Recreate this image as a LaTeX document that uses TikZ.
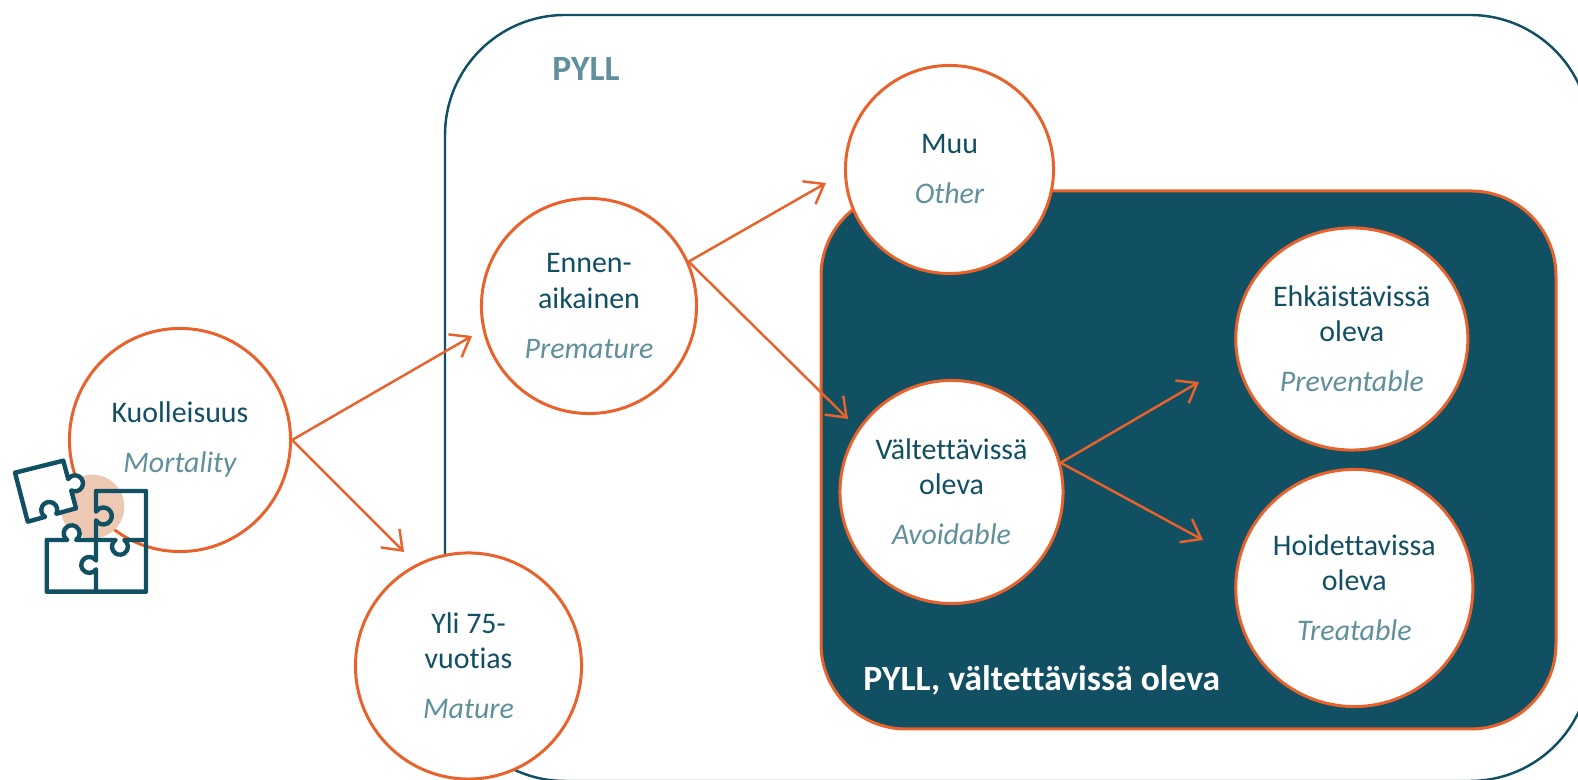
\documentclass[tikz,border=0pt]{standalone}
\usepackage{fontspec}
\setmainfont[Ligatures=CommonOff]{Carlito}
\usetikzlibrary{arrows.meta,shapes.geometric}

\definecolor{tealdark}{HTML}{114F63}
\definecolor{teallight}{HTML}{5F909C}
\definecolor{orangeline}{HTML}{E9622B}
\definecolor{palepeach}{HTML}{EDC9B4}

\newcommand{\enname}[1]{\\[4.2pt]\textit{\color{teallight}#1}}

\tikzset{
  circlenode/.style={ellipse,draw=orangeline,line width=0.85pt,fill=white,text=tealdark,
    align=center,inner sep=0pt,font=\fontsize{8.5}{10}\selectfont},
  arrowline/.style={draw=orangeline,line width=0.7pt,-{Straight Barb[length=5pt,width=7.5pt,line width=0.7pt]}},
  puzzleline/.style={draw=tealdark,line width=1.25pt,line join=round}
}

\begin{document}
\begin{tikzpicture}[x=0.01cm,y=-0.01cm]
\useasboundingbox (0,0) rectangle (1578,780);
\begin{scope}
\clip (0,0) rectangle (1578,780);

\draw[color=tealdark,line width=0.7pt,rounded corners=1.2cm] (445,15) rectangle (1590,781);
\draw[draw=orangeline,fill=tealdark,line width=0.85pt,rounded corners=0.85cm] (821,191) rectangle (1556,729);

\node[circlenode,minimum width=2.21cm,minimum height=2.23cm] (kuolleisuus) at (180,440) {Kuolleisuus\enname{Mortality}};
\node[circlenode,minimum size=2.15cm] (ennen) at (589,306) {Ennen-\\aikainen\enname{Premature}};
\node[circlenode,minimum size=2.08cm] (muu) at (949.5,169.5) {Muu\enname{Other}};
\node[circlenode,minimum size=2.26cm] (yli) at (468.5,666) {Yli 75-\\vuotias\enname{Mature}};
\node[circlenode,minimum size=2.23cm] (valtettava) at (951.5,492) {Vältettävissä\\oleva\enname{Avoidable}};
\node[circlenode,minimum width=2.32cm,minimum height=2.22cm] (ehkaistava) at (1351.8,339) {Ehkäistävissä\\oleva\enname{Preventable}};
\node[circlenode,minimum size=2.37cm] (hoidettava) at (1354.3,588) {Hoidettavissa\\oleva\enname{Treatable}};

\node[text=teallight,font=\fontsize{10.1}{12}\selectfont\bfseries] (pyll) at (586,69) {PYLL};
\node[text=white,font=\fontsize{10.1}{12}\selectfont\bfseries,anchor=west] (pyllvalt) at (851,680) {PYLL, vältettävissä oleva};

\coordinate (endennen) at (472,336);
\coordinate (endyli) at (404,552);
\coordinate (endmuu) at (826,183);
\coordinate (endvalt) at (848,419);
\coordinate (endehk) at (1199,382);
\coordinate (endhoid) at (1203,540);

\draw[arrowline] (kuolleisuus.east) -- (endennen);
\draw[arrowline] (kuolleisuus.east) -- (endyli);
\draw[arrowline] (ennen.24) -- (endmuu);
\draw[arrowline] (ennen.24) -- (endvalt);
\draw[arrowline] (valtettava.15) -- (endehk);
\draw[arrowline] (valtettava.15) -- (endhoid);

% puzzle
\fill[palepeach] (92.3,506.7) circle (32);
\draw[puzzleline,fill=white] (15,472.7) -- (63.3,460.7) -- (68.2,479.1)
  arc[start angle=-148,delta angle=266,radius=8] -- (76,508.3) -- (56.3,513.8)
  arc[start angle=28.5,delta angle=-267.5,radius=8] -- (27.7,521.7) -- cycle;
\draw[puzzleline,fill=white] (46.7,540) -- (67.3,540)
  arc[start angle=123.3,delta angle=293,radius=8] -- (96,540) -- (96,560.6)
  arc[start angle=-33,delta angle=-294,radius=8] -- (96,591.7) -- (46.7,591.7) -- cycle;
\draw[puzzleline] (96,540) -- (115.6,540)
  arc[start angle=-123,delta angle=-294,radius=8] -- (146,540);
\draw[puzzleline] (96,540) -- (96,520.3)
  arc[start angle=149.5,delta angle=-299,radius=8.5] -- (96,491) -- (146,491) -- (146,591.7) -- (96,591.7);
\end{scope}
\end{tikzpicture}
\end{document}
